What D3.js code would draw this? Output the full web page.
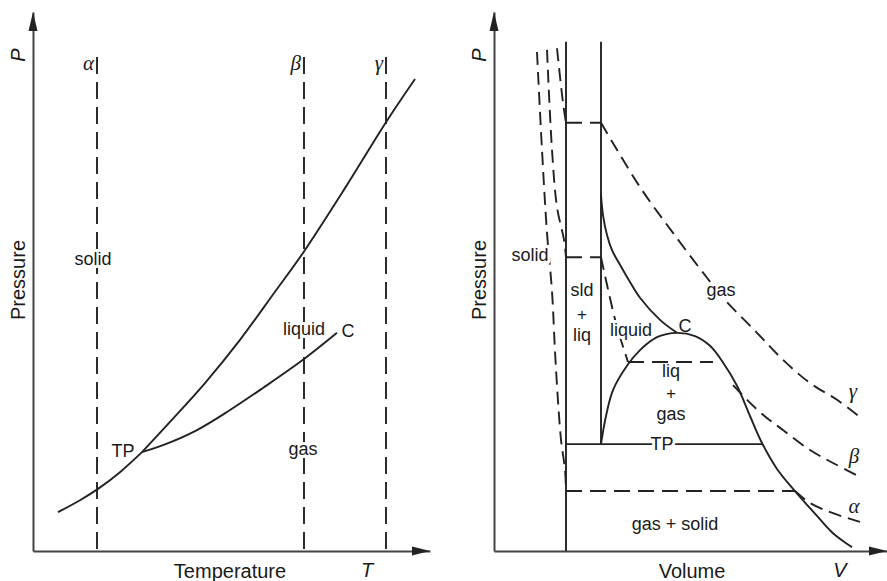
<!DOCTYPE html>
<html>
<head>
<meta charset="utf-8">
<script src="https://cdn.jsdelivr.net/npm/d3@7"></script>
<style>
  body { margin: 0; background: #fff; }
  svg { display: block; }
</style>
</head>
<body>
<script>
// ---- data (left: temperature T vs pressure P, right: volume V vs pressure P) ----
const sublimationCurve = [[6.25, 7.2], [11.75, 9.4], [16.25, 11.5], [21.75, 14.6], [27.25, 18.3]];
const meltingCurve = [[27.25, 18.3], [34.25, 23.9], [43, 31.1], [51.75, 39.1], [60.5, 48], [67.5, 55.2], [78, 67.2], [88.25, 79.4], [95.5, 87.4]];
const vaporCurve = [[27.25, 18.3], [32.5, 19.6], [41, 22.4], [49.25, 26.1], [57.5, 30.2], [67.5, 35.4], [76, 40.4]];
const isothermNames = ["α", "β", "γ"];
const isothermT = [16, 67.75, 88.25];
const isothermTop = 91.5;

const solidEdge = [[18, 94.3], [18, 0]];
const liquidEdge = [[26.75, 94.3], [26.75, 19.8]];
const triplePointLine = [[18, 19.8], [67, 19.8]];
const dome = [[26.75, 19.8], [28, 25], [29.75, 29.8], [33.25, 34.3], [36.5, 37.2], [40.75, 39.6], [45.75, 40.4],
  [50.25, 39.8], [54, 38], [57, 35.2], [60.75, 30.6], [64, 25], [67, 20], [70.75, 15.2], [75.25, 11.1],
  [80.75, 6.5], [84.75, 3.3], [89.5, 0.7]];
const criticalCurve = [[26.75, 65.9], [27.25, 62.2], [28.25, 58.5], [29.5, 55.7], [31.5, 53], [34, 49.8], [36.5, 46.9], [41.5, 42.8], [45.75, 40.4]];

const gammaSolid = [[15.75, 93.1], [17.25, 83], [18, 79.3]];
const gammaTie = [[18, 79.3], [26.75, 79.3]];
const gammaGas = [[26.75, 79.3], [36.5, 67.4], [44.75, 58.9], [53.25, 50.6], [57.25, 46.9], [65.75, 40.4], [72.25, 35.4], [79, 31.1], [85.75, 28], [91.5, 24.8]];

const betaSolid = [[13.25, 92.8], [14.5, 74.3], [15.75, 63.7], [17.5, 57.6], [18, 54.4]];
const betaTie = [[18, 54.4], [26.75, 54.4]];
const betaLiquid = [[26.75, 54.4], [28.25, 49.3], [30.75, 41.5], [33.5, 35]];
const betaBoil = [[33.5, 35], [54.75, 35]];
const betaGas = [[59.75, 30.7], [66.5, 25.7], [72.25, 22.4], [79, 18.7], [84.75, 16.3], [91.5, 13.7]];

const alphaSolid = [[10.75, 92.4], [12, 74.3], [13.25, 58.9], [14.5, 48.1], [15.25, 37], [16, 27.8], [16.75, 20.6], [17.75, 15], [18, 11.1]];
const alphaTie = [[18, 11.1], [75.25, 11.1]];
const alphaGas = [[75.25, 11.1], [79, 8.9], [84.75, 7], [91.5, 5.4]];

// labels: [text, x value, P value (baseline), halo]
const leftLabels = [["solid", 15, 53, true], ["liquid", 67.75, 40, true], ["C", 78.75, 39.6, false],
  ["TP", 22.5, 17.4, false], ["gas", 67.5, 17.8, true]];
const rightLabels = [["solid", 9, 53.7, true], ["sld", 22, 47.2, false], ["+", 22, 42.8, false], ["liq", 22, 38.9, false],
  ["liquid", 34.25, 39.8, true], ["C", 47.75, 40.6, false], ["liq", 44.25, 32.2, false], ["+", 44.25, 28.1, false],
  ["gas", 44.25, 24.3, false], ["TP", 42, 18.7, true], ["gas + solid", 45.25, 3.9, false], ["gas", 56.75, 47.2, true]];
const rightGreek = [["γ", 89.75, 28.3], ["β", 90, 16.3], ["α", 90, 7]];

// ---- layout ----
const W = 887, H = 581;
const ink = "#222";
const sans = "'Liberation Sans', Arial, sans-serif";
const serif = "'Liberation Serif', 'Times New Roman', serif";

const xT = d3.scaleLinear().domain([0, 100]).range([33, 433]);
const xV = d3.scaleLinear().domain([0, 100]).range([494, 894]);
const yP = d3.scaleLinear().domain([0, 100]).range([551, 11]);

const svg = d3.select("body").append("svg").attr("width", W).attr("height", H);

function drawAxes(x, xMax) {
  const ax = d3.scaleLinear().domain([0, xMax]).range([x(0), x(xMax)]);
  const ay = d3.scaleLinear().domain([0, 99.8]).range([yP(0), yP(99.8)]);
  svg.append("g").attr("transform", `translate(0,${yP(0)})`)
    .call(d3.axisBottom(ax).tickValues([]).tickSizeOuter(0))
    .select(".domain").attr("stroke", "#444").attr("stroke-width", 2);
  svg.append("g").attr("transform", `translate(${x(0)},0)`)
    .call(d3.axisLeft(ay).tickValues([]).tickSizeOuter(0))
    .select(".domain").attr("stroke", "#444").attr("stroke-width", 2);
  const tx = ax.range()[1], ty = yP(0);
  svg.append("path").attr("fill", "#222")
    .attr("d", `M${tx},${ty}L${tx - 18},${ty - 4.5}L${tx - 18},${ty + 4.5}Z`);
  const ux = x(0), uy = ay.range()[1];
  svg.append("path").attr("fill", "#222")
    .attr("d", `M${ux},${uy}L${ux - 4.5},${uy + 19}L${ux + 4.5},${uy + 19}Z`);
}

function curve(x, pts, dash, smooth) {
  const line = d3.line().x(d => x(d[0])).y(d => yP(d[1]))
    .curve(smooth ? d3.curveCatmullRom.alpha(0.5) : d3.curveLinear);
  svg.append("path").datum(pts)
    .attr("fill", "none").attr("stroke", ink).attr("stroke-width", 1.9)
    .attr("stroke-dasharray", dash || null)
    .attr("d", line);
}

function label(x, d, size) {
  const t = svg.append("text")
    .attr("x", x(d[1])).attr("y", yP(d[2]))
    .attr("text-anchor", "middle")
    .style("font-family", sans).style("font-size", (size || 18) + "px")
    .attr("fill", "#1a1a1a").text(d[0]);
  if (d[3]) t.attr("paint-order", "stroke").attr("stroke", "#fff").attr("stroke-width", 6).attr("stroke-linejoin", "round");
}

function axisTitles(x0, titleX, title, symX, sym) {
  svg.append("text").attr("x", titleX).attr("y", 578).attr("text-anchor", "middle")
    .style("font-family", sans).style("font-size", "20px").attr("fill", "#1a1a1a").text(title);
  svg.append("text").attr("x", symX).attr("y", 577).attr("text-anchor", "middle")
    .style("font-family", sans).style("font-size", "20px").style("font-style", "italic").attr("fill", "#1a1a1a").text(sym);
  svg.append("text").attr("transform", `translate(${x0 - 8},280) rotate(-90)`).attr("text-anchor", "middle")
    .style("font-family", sans).style("font-size", "20px").attr("fill", "#1a1a1a").text("Pressure");
  svg.append("text").attr("transform", `translate(${x0 - 8},55) rotate(-90)`).attr("text-anchor", "middle")
    .style("font-family", sans).style("font-size", "20px").style("font-style", "italic").attr("fill", "#1a1a1a").text("P");
}

// ---- left panel ----
drawAxes(xT, 99.25);
isothermT.forEach((t, i) => {
  curve(xT, [[t, isothermTop], [t, 0]], "17,8", false);
  svg.append("text").attr("x", xT(t) - 3).attr("y", yP(89))
    .attr("text-anchor", "end")
    .style("font-family", serif).style("font-size", "21px").style("font-style", "italic")
    .attr("fill", "#1a1a1a").text(isothermNames[i]);
});
curve(xT, sublimationCurve, null, true);
curve(xT, meltingCurve, null, true);
curve(xT, vaporCurve, null, true);
leftLabels.forEach(d => label(xT, d));
axisTitles(xT(0), 230, "Temperature", 367, "T");

// ---- right panel ----
drawAxes(xV, 98.25);
curve(xV, solidEdge, null, false);
curve(xV, liquidEdge, null, false);
curve(xV, triplePointLine, null, false);
curve(xV, dome, null, true);
curve(xV, criticalCurve, null, true);
const d = "13,7";
[gammaSolid, betaSolid, alphaSolid].forEach(p => curve(xV, p, d, true));
[gammaTie, betaTie, betaBoil, alphaTie].forEach(p => curve(xV, p, "16,8", false));
[gammaGas, betaLiquid, betaGas, alphaGas].forEach(p => curve(xV, p, d, true));
rightLabels.forEach(d => label(xV, d, d[0] === "+" ? 17 : 18));
rightGreek.forEach(g => {
  svg.append("text").attr("x", xV(g[1])).attr("y", yP(g[2])).attr("text-anchor", "middle")
    .style("font-family", serif).style("font-size", "21px").style("font-style", "italic")
    .attr("fill", "#1a1a1a").text(g[0]);
});
axisTitles(xV(0), 692, "Volume", 840, "V");
</script>
</body>
</html>
